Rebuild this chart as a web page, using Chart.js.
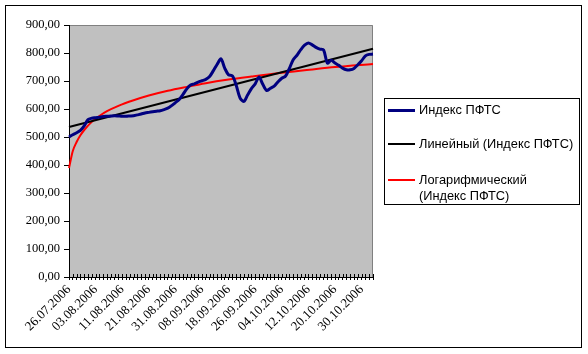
<!DOCTYPE html>
<html>
<head>
<meta charset="utf-8">
<script src="https://cdn.jsdelivr.net/npm/chart.js@4"></script>
<style>
  body { margin: 0; background: #fff; }
  #wrap { position: relative; width: 588px; height: 354px; }
  #legend {
    position: absolute; left: 384px; top: 98px; width: 194px; height: 105px;
    border: 1px solid #000; font-family: "Liberation Sans", Arial, sans-serif;
    font-size: 12.8px; color: #000; line-height: 16px;
  }
  .item { position: absolute; left: 0; }
  .swatch { position: absolute; left: 3px; width: 27px; }
  .txt { position: absolute; left: 34px; white-space: nowrap; }
</style>
</head>
<body>
<div id="wrap">
  <canvas id="pftsChart" width="588" height="354"></canvas>
  <div id="legend"></div>
</div>
<script>
// даты торгов (подписи каждые 7 значений)
const dates = [
  '26.07.2006','27.07.2006','28.07.2006','29.07.2006','31.07.2006','01.08.2006','02.08.2006',
  '03.08.2006','04.08.2006','05.08.2006','07.08.2006','08.08.2006','09.08.2006','10.08.2006',
  '11.08.2006','12.08.2006','14.08.2006','15.08.2006','16.08.2006','17.08.2006','18.08.2006',
  '21.08.2006','22.08.2006','23.08.2006','25.08.2006','28.08.2006','29.08.2006','30.08.2006',
  '31.08.2006','01.09.2006','02.09.2006','04.09.2006','05.09.2006','06.09.2006','07.09.2006',
  '08.09.2006','09.09.2006','11.09.2006','12.09.2006','13.09.2006','14.09.2006','15.09.2006',
  '18.09.2006','19.09.2006','20.09.2006','21.09.2006','22.09.2006','23.09.2006','25.09.2006',
  '26.09.2006','27.09.2006','28.09.2006','29.09.2006','30.09.2006','02.10.2006','03.10.2006',
  '04.10.2006','05.10.2006','06.10.2006','07.10.2006','09.10.2006','10.10.2006','11.10.2006',
  '12.10.2006','13.10.2006','14.10.2006','16.10.2006','17.10.2006','18.10.2006','19.10.2006',
  '20.10.2006','21.10.2006','23.10.2006','24.10.2006','25.10.2006','26.10.2006','27.10.2006',
  '30.10.2006','31.10.2006','01.11.2006','02.11.2006'
];

// Индекс ПФТС
const pftsIndex = [
  500, 508, 515, 524, 540, 562, 567, 569, 571, 573,
  574, 575, 576, 575, 574, 574, 575, 576, 579, 582,
  586, 588, 590, 592, 594, 598, 603, 612, 623, 634,
  652, 672, 686, 690, 696, 701, 706, 716, 737, 760,
  779, 745, 722, 718, 685, 640, 627, 650, 673, 690,
  714, 688, 666, 674, 682, 697, 710, 718, 745, 776,
  792, 812, 828, 836, 829, 820, 814, 811, 764, 774,
  764, 756, 746, 740, 740, 745, 758, 772, 790, 795,
  796
];

// линейный тренд (значения)
const linearIdx = [0, 80];
const linearVals = [536, 815];

// логарифмический тренд (значения)
const logIdx  = [0, 1, 2, 3, 4, 6, 8, 10, 13, 17, 21, 26, 31, 36, 42, 48, 55, 62, 70, 80];
const logVals = [389, 450, 482, 506, 525, 554, 575, 592, 611, 631, 648, 665, 679, 692, 705, 716, 728, 738, 750, 761];

const seriesNames = ['Индекс ПФТС', 'Линейный (Индекс ПФТС)', 'Логарифмический (Индекс ПФТС)'];
const yMin = 0, yMax = 900, yStep = 100;
const labelEvery = 7;

function sparse(idx, vals) {
  const arr = dates.map(() => null);
  idx.forEach((i, k) => { arr[i] = vals[k]; });
  return arr;
}

const plotBg = {
  id: 'plotBg',
  beforeDraw(chart) {
    const { ctx, chartArea: a } = chart;
    ctx.save();
    ctx.fillStyle = '#fff';
    ctx.fillRect(0, 0, chart.width, chart.height);
    ctx.strokeStyle = '#000';
    ctx.lineWidth = 1;
    ctx.strokeRect(5.5, 5.5, 576, 342);
    ctx.fillStyle = '#c0c0c0';
    ctx.fillRect(a.left, a.top, a.right - a.left, a.bottom - a.top);
    ctx.strokeStyle = '#808080';
    ctx.beginPath();
    ctx.moveTo(a.left, a.top + 0.5);
    ctx.lineTo(a.right - 0.5, a.top + 0.5);
    ctx.lineTo(a.right - 0.5, a.bottom);
    ctx.stroke();
    ctx.restore();
  },
  afterDraw(chart) {
    // засечки по оси X пересекают ось
    const { ctx, chartArea: a } = chart;
    const xs = chart.scales.x;
    ctx.save();
    ctx.strokeStyle = '#000';
    ctx.lineWidth = 1;
    ctx.beginPath();
    xs.ticks.forEach((t, i) => {
      const px = Math.round(xs.getPixelForTick(i)) + 0.5;
      ctx.moveTo(px, a.bottom - 3);
      ctx.lineTo(px, a.bottom);
    });
    ctx.stroke();
    ctx.restore();
  }
};

const ctx = document.getElementById('pftsChart').getContext('2d');
const pftsChart = new Chart(ctx, {
  type: 'line',
  data: {
    labels: dates,
    datasets: [{
      label: seriesNames[0],
      data: pftsIndex,
      borderColor: '#000080',
      borderWidth: 3,
      pointRadius: 0,
      tension: 0.3
    }, {
      label: seriesNames[1],
      data: sparse(linearIdx, linearVals),
      borderColor: '#000',
      borderWidth: 2,
      pointRadius: 0,
      spanGaps: true
    }, {
      label: seriesNames[2],
      data: sparse(logIdx, logVals),
      borderColor: '#ff0000',
      borderWidth: 2,
      pointRadius: 0,
      spanGaps: true,
      cubicInterpolationMode: 'monotone'
    }]
  },
  options: {
    responsive: false,
    animation: false,
    devicePixelRatio: 1,
    layout: { padding: { left: 0, top: 25, right: 215, bottom: 0 } },
    plugins: { legend: { display: false }, tooltip: { enabled: false } },
    scales: {
      x: {
        offset: false,
        afterFit(s) { s.height = 77; },
        grid: { drawOnChartArea: false, drawTicks: true, tickLength: 3, color: '#000' },
        border: { color: '#000', width: 1 },
        ticks: {
          autoSkip: false,
          minRotation: 45,
          maxRotation: 45,
          padding: 2,
          color: '#000',
          font: { family: '"Liberation Serif", "Times New Roman", serif', size: 13 },
          callback(v, i) { return i % labelEvery === 0 ? this.getLabelForValue(v) : ''; }
        }
      },
      y: {
        min: yMin,
        max: yMax,
        afterFit(s) { s.width = 69; },
        grid: { drawOnChartArea: false, drawTicks: true, tickLength: 5, color: '#000' },
        border: { color: '#000', width: 1 },
        ticks: {
          stepSize: yStep,
          padding: 4,
          color: '#000',
          font: { family: '"Liberation Serif", "Times New Roman", serif', size: 12.5 },
          callback: v => v.toFixed(2).replace('.', ',')
        }
      }
    }
  },
  plugins: [plotBg]
});

// легенда
const legendItems = [
  { name: seriesNames[0], color: '#000080', width: 3, top: 3 },
  { name: 'Линейный (Индекс ПФТС)', color: '#000', width: 2, top: 37 },
  { name: 'Логарифмический<br>(Индекс ПФТС)', color: '#ff0000', width: 2, top: 73 }
];
const legend = document.getElementById('legend');
legendItems.forEach(it => {
  const d = document.createElement('div');
  d.className = 'item';
  d.style.top = it.top + 'px';
  d.innerHTML = '<div class="swatch" style="top:' + (8 - it.width / 2) + 'px;height:' + it.width +
    'px;background:' + it.color + '"></div><div class="txt">' + it.name + '</div>';
  legend.appendChild(d);
});
</script>
</body>
</html>
